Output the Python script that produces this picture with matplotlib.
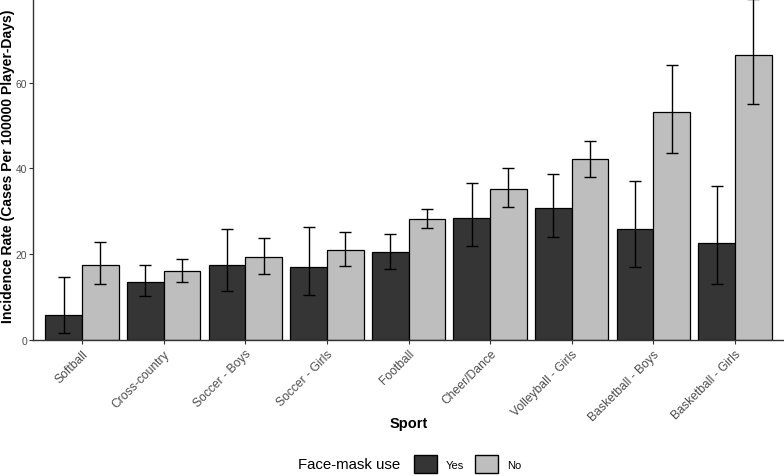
import numpy as np
import matplotlib.pyplot as plt
from matplotlib.patches import Patch

plt.rcParams['font.family'] = ['Liberation Sans', 'DejaVu Sans']

sports = ['Softball', 'Cross-country', 'Soccer - Boys', 'Soccer - Girls', 'Football',
          'Cheer/Dance', 'Volleyball - Girls', 'Basketball - Boys', 'Basketball - Girls']

# incidence rates, face-mask use = Yes
yes_rate = [5.8, 13.5, 17.5, 17.1, 20.4, 28.5, 30.7, 25.8, 22.5]
yes_low = [1.6, 10.3, 11.4, 10.4, 16.6, 21.8, 24.0, 17.1, 13.0]
yes_high = [14.7, 17.4, 25.9, 26.4, 24.8, 36.7, 38.8, 37.1, 36.0]

# face-mask use = No
no_rate = [17.4, 16.0, 19.3, 20.9, 28.3, 35.3, 42.1, 53.1, 66.5]
no_low = [13.0, 13.6, 15.4, 17.2, 26.1, 31.0, 38.0, 43.6, 55.1]
no_high = [22.9, 18.8, 23.7, 25.2, 30.6, 40.1, 46.5, 64.1, 79.6]

dark = '#353535'
light = '#bebebe'

fig = plt.figure(figsize=(7.84, 4.77), dpi=100)
ax = fig.add_axes([33 / 784, 136 / 477, 751 / 784, 341 / 477])

x = np.arange(len(sports))
w = 0.45

ax.bar(x - w / 2, yes_rate, width=w, color=dark, edgecolor='black', linewidth=0.9, zorder=2)
ax.bar(x + w / 2, no_rate, width=w, color=light, edgecolor='black', linewidth=0.9, zorder=2)

yes_err = [np.array(yes_rate) - np.array(yes_low), np.array(yes_high) - np.array(yes_rate)]
no_err = [np.array(no_rate) - np.array(no_low), np.array(no_high) - np.array(no_rate)]
ax.errorbar(x - w / 2, yes_rate, yerr=yes_err, fmt='none', ecolor='black',
            elinewidth=1.0, capsize=4.3, capthick=1.0, zorder=3)
ax.errorbar(x + w / 2, no_rate, yerr=no_err, fmt='none', ecolor='black',
            elinewidth=1.0, capsize=4.3, capthick=1.0, zorder=3)

ax.set_xlim(-0.6, len(sports) - 0.4)
ax.set_ylim(0, 79.5)
ax.set_yticks([0, 20, 40, 60])
ax.set_xticks(x)
ax.set_xticklabels(sports, rotation=45, ha='right', va='top', rotation_mode='anchor',
                   color='#4d4d4d', fontsize=8.7)
ax.tick_params(axis='y', labelsize=7.4, labelcolor='#4d4d4d', length=2.9, pad=1.4, color='#333333')
ax.tick_params(axis='x', length=2.9, color='#333333', pad=2.5)

for s in ['top', 'right']:
    ax.spines[s].set_visible(False)
for s in ['left', 'bottom']:
    ax.spines[s].set_color('#333333')
    ax.spines[s].set_linewidth(1.0)

ax.set_xlabel('Sport', fontweight='bold', fontsize=10.5)
ax.xaxis.set_label_coords(0.5, -0.222)
fig.text(8 / 784, 1 - 166 / 477, 'Incidence Rate (Cases Per 100000 Player-Days)',
         rotation=90, ha='center', va='center', fontweight='bold', fontsize=10.1)

fig.text(298 / 784, 1 - 465 / 477, 'Face-mask use', fontsize=10.8, ha='left', va='center')
handles = [Patch(facecolor=dark, edgecolor='black', label='Yes'),
           Patch(facecolor=light, edgecolor='black', label='No')]
fig.legend(handles=handles, ncol=2, frameon=False, fontsize=8,
           loc='center left', bbox_to_anchor=(414 / 784, 1 - 465 / 477),
           borderpad=0, borderaxespad=0,
           handlelength=2.06, handleheight=2.06, handletextpad=0.8, columnspacing=1.0)

plt.savefig('out.png', dpi=100)
